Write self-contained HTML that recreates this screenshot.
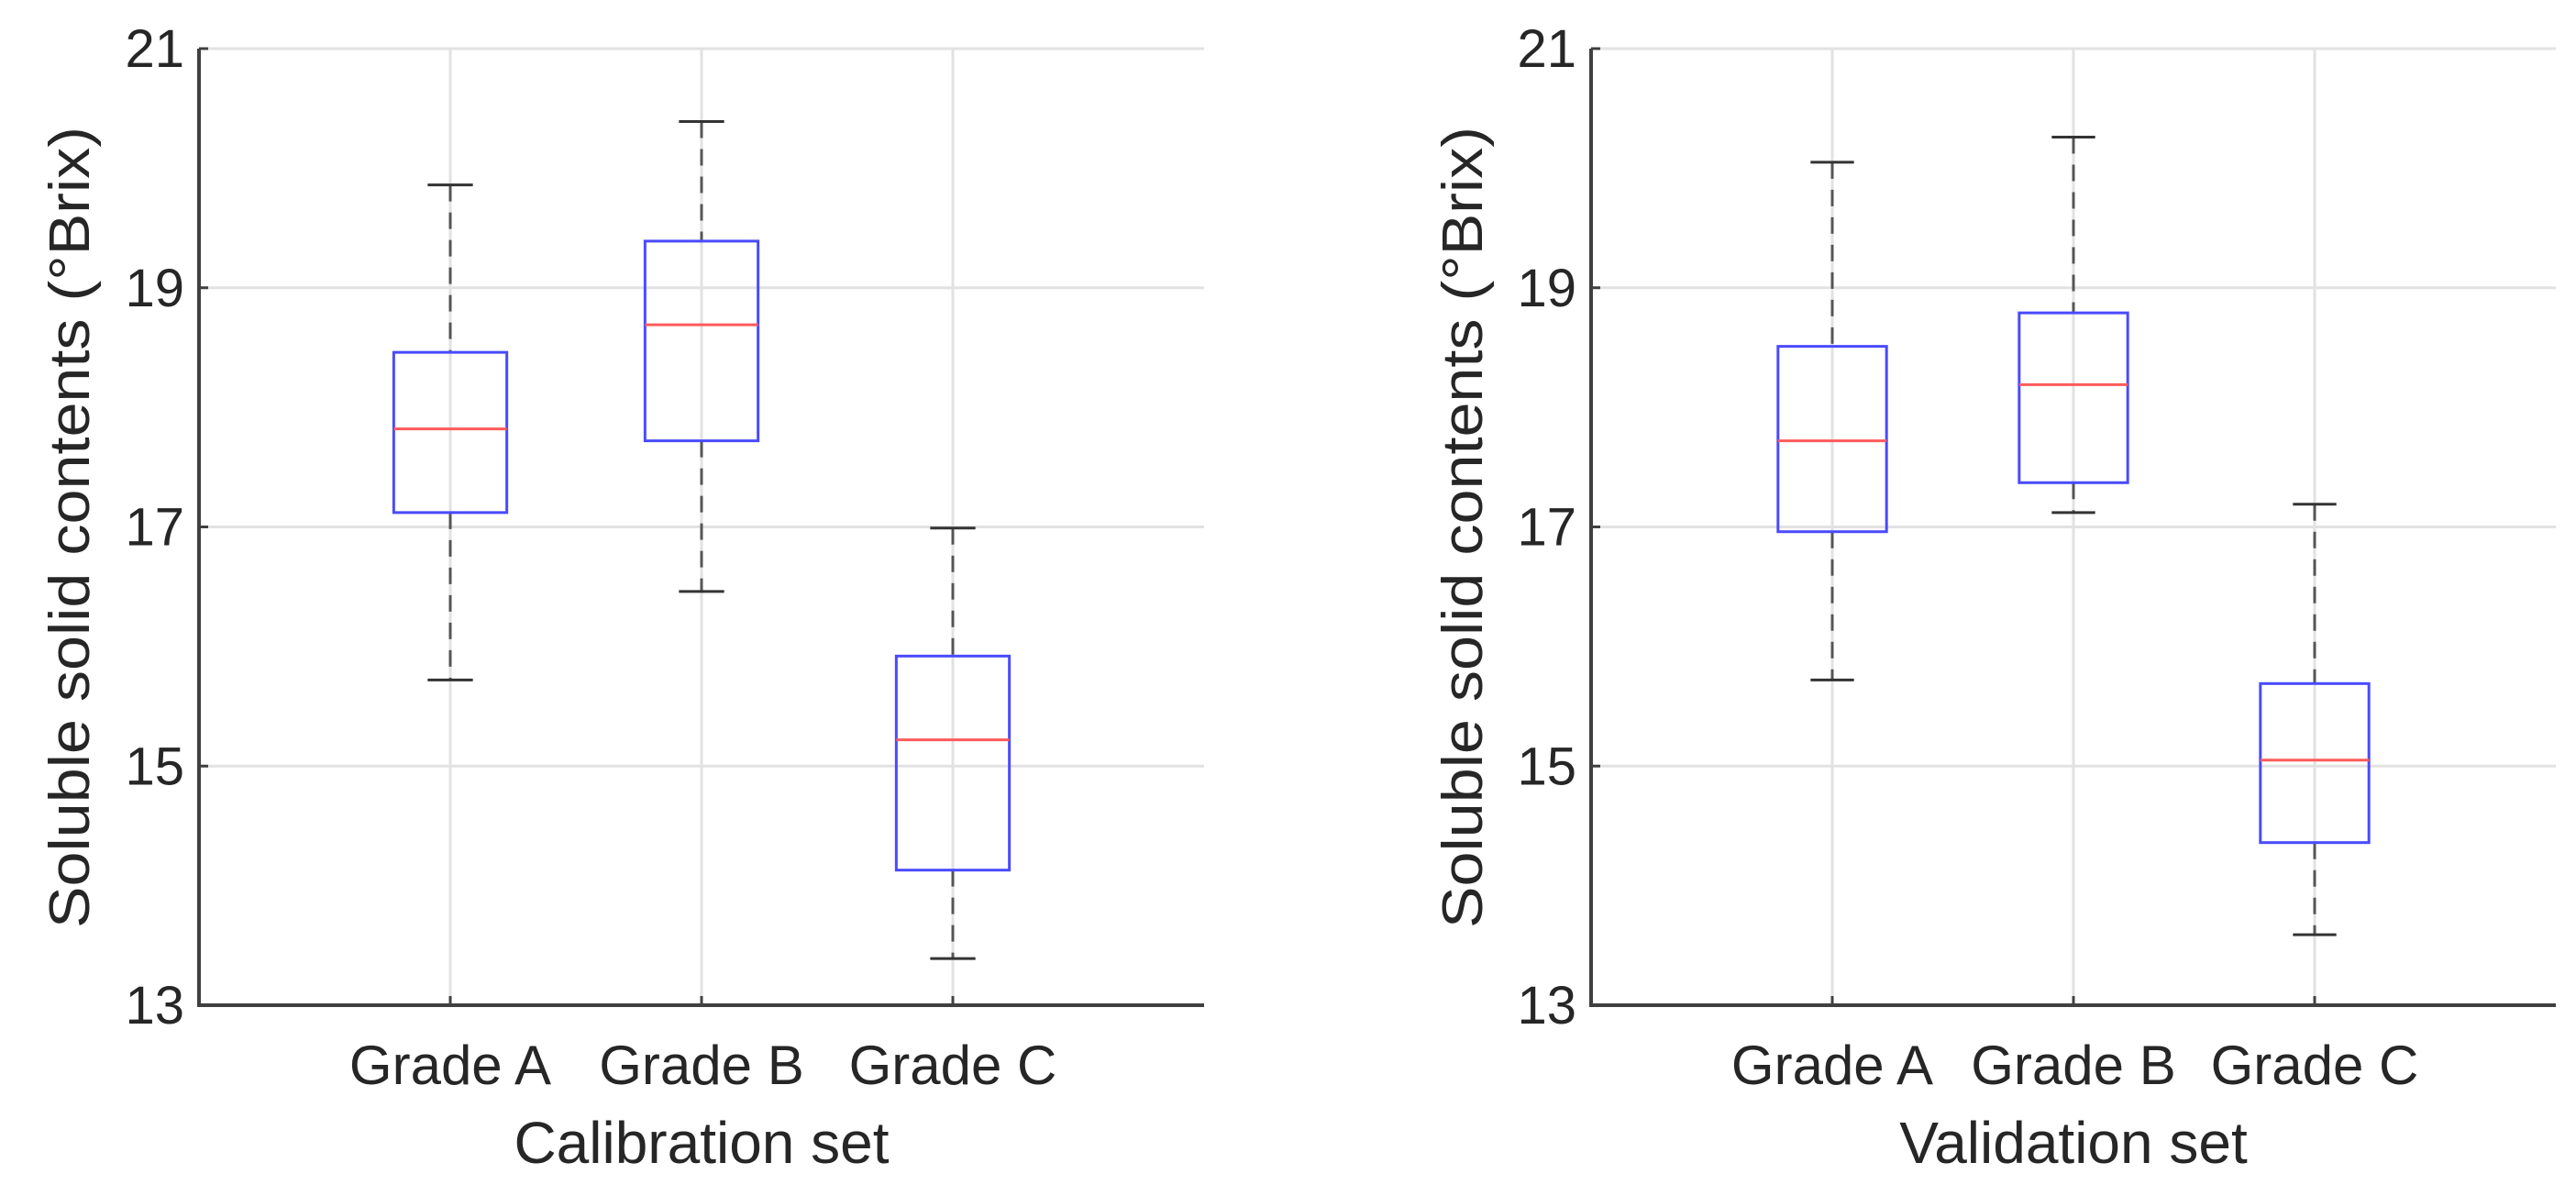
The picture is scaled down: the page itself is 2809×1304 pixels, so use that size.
<!DOCTYPE html>
<html><head><meta charset="utf-8"><style>html,body{margin:0;padding:0;background:#fff}svg{display:block}text{font-family:"Liberation Sans",Arial,sans-serif;fill:#262626}</style></head>
<body>
<svg id="chart" width="2809" height="1304" viewBox="0 0 2809 1304"></svg>
<script>
const categories = ["Grade A","Grade B","Grade C"];
const yTicks = [13,15,17,19,21];
// [lowWhisker, Q1, median, Q3, highWhisker]
const calibLow = [15.72,16.46,13.39];
const calibQ1 = [17.12,17.72,14.13];
const calibMed = [17.82,18.69,15.22];
const calibQ3 = [18.46,19.39,15.92];
const calibHigh = [19.86,20.39,16.99];
const validLow = [15.72,17.12,13.59];
const validQ1 = [16.96,17.37,14.36];
const validMed = [17.72,18.19,15.05];
const validQ3 = [18.51,18.79,15.69];
const validHigh = [20.05,20.26,17.19];

const NS="http://www.w3.org/2000/svg";
const svg=document.getElementById('chart');
function mk(tag,attrs,parent){const e=document.createElementNS(NS,tag);for(const k in attrs)e.setAttribute(k,attrs[k]);(parent||svg).appendChild(e);return e;}

function panel(name,x0,x1,xTitle,low,q1,med,q3,high,ylabX){
  const top=53,bot=1096;
  const g=mk('g',{});
  
  
  const xs=i=>x0+(i+1)*(x1-x0)/4;
  const unit=(x1-x0)/4;
  const ys=v=>bot-(v-13)*(bot-top)/8;
  // grid
  yTicks.forEach(t=>{
    const l=mk('line',{x1:x0,x2:x1,y1:ys(t),y2:ys(t),stroke:'#e2e2e2','stroke-width':3},g);
    
    
  });
  categories.forEach((c,i)=>{
    const l=mk('line',{x1:xs(i),x2:xs(i),y1:top,y2:bot,stroke:'#e2e2e2','stroke-width':3},g);
    
    
  });
  // axes
  const ax=mk('path',{d:`M${x0},${top}V${bot}H${x1}`,fill:'none',stroke:'#404040','stroke-width':4},g);
  
  
  yTicks.forEach(t=>{
    mk('line',{x1:x0,x2:x0+10,y1:ys(t),y2:ys(t),stroke:'#404040','stroke-width':3},g);
    const tx=mk('text',{x:x0-16,y:ys(t)+20,'text-anchor':'end','font-size':58},g);
    tx.textContent=t;
    
    
  });
  categories.forEach((c,i)=>{
    mk('line',{x1:xs(i),x2:xs(i),y1:bot,y2:bot-10,stroke:'#404040','stroke-width':3},g);
    const tx=mk('text',{x:xs(i),y:1182,'text-anchor':'middle','font-size':60},g);
    tx.textContent=c;
    
    
  });
  const xt=mk('text',{x:(x0+x1)/2,y:1268,'text-anchor':'middle','font-size':64},g);
  xt.textContent=xTitle;
  
  
  const yt=mk('text',{x:0,y:0,'text-anchor':'middle','font-size':62,textLength:874,lengthAdjust:'spacingAndGlyphs',transform:`translate(${ylabX},575) rotate(-90)`},g);
  yt.textContent='Soluble solid contents (°Brix)';
  
  
  // boxes
  categories.forEach((c,i)=>{
    const cx=xs(i),bw=unit*0.45,cw=unit*0.18;
    const bg=mk('g',{},g);
    
    
    mk('line',{x1:cx,x2:cx,y1:ys(high[i]),y2:ys(q3[i]),stroke:'#555','stroke-width':3,'stroke-dasharray':'18 12'},bg);
    mk('line',{x1:cx,x2:cx,y1:ys(q1[i]),y2:ys(low[i]),stroke:'#555','stroke-width':3,'stroke-dasharray':'18 12'},bg);
    mk('line',{x1:cx-cw/2,x2:cx+cw/2,y1:ys(high[i]),y2:ys(high[i]),stroke:'#333','stroke-width':3},bg);
    mk('line',{x1:cx-cw/2,x2:cx+cw/2,y1:ys(low[i]),y2:ys(low[i]),stroke:'#333','stroke-width':3},bg);
    mk('rect',{x:cx-bw/2,y:ys(q3[i]),width:bw,height:ys(q1[i])-ys(q3[i]),fill:'none',stroke:'#4a4aff','stroke-width':3},bg);
    mk('line',{x1:cx-bw/2,x2:cx+bw/2,y1:ys(med[i]),y2:ys(med[i]),stroke:'#ff5a5a','stroke-width':3},bg);
  });
}
panel('calibration-panel',217,1313,'Calibration set',calibLow,calibQ1,calibMed,calibQ3,calibHigh,97);
panel('validation-panel',1735,2787,'Validation set',validLow,validQ1,validMed,validQ3,validHigh,1616);
</script>
</body></html>
